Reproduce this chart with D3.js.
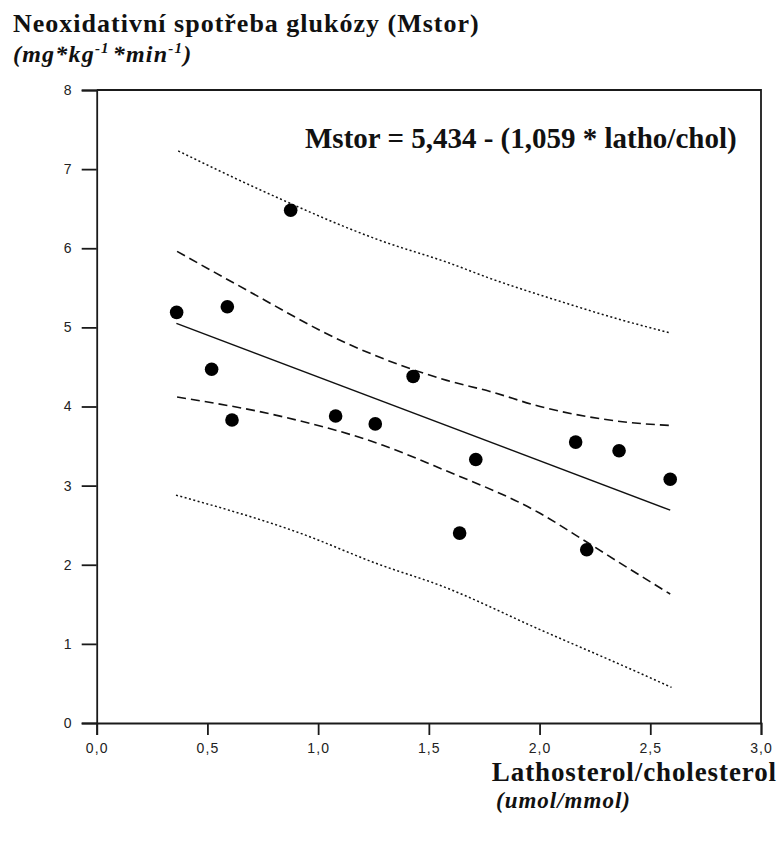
<!DOCTYPE html>
<html>
<head>
<meta charset="utf-8">
<script src="https://cdn.jsdelivr.net/npm/d3@7"></script>
<style>
  body { margin: 0; background: #fff; }
  .serif { font-family: "Liberation Serif", "Times New Roman", serif; font-weight: bold; fill: #111; }
  .tick text { font-family: "Liberation Sans", Arial, sans-serif; font-size: 14px; fill: #222; letter-spacing: 1.1px; }
</style>
</head>
<body>
<svg id="chart" width="780" height="850"></svg>
<script>
// measured points (latho/chol ratio vs. Mstor)
var latho = [0.361, 0.519, 0.590, 0.611, 0.876, 1.079, 1.258, 1.429, 1.639, 1.712, 2.163, 2.213, 2.359, 2.590];
var mstor = [5.19, 4.47, 5.26, 3.83, 6.48, 3.88, 3.78, 4.38, 2.40, 3.33, 3.55, 2.19, 3.44, 3.08];

// regression line, ends
var fitX = [0.36, 2.59];
var fitY = [5.05, 2.69];

// confidence band (dashed)
var ciUpX = [0.363, 0.633, 1.144, 1.581, 1.776, 2.002, 2.399, 2.59];
var ciUpY = [5.96, 5.54, 4.78, 4.33, 4.19, 4.00, 3.80, 3.76];
var ciLoX = [0.363, 0.841, 1.293, 1.550, 2.002, 2.200, 2.393, 2.59];
var ciLoY = [4.12, 3.87, 3.51, 3.22, 2.65, 2.31, 1.97, 1.63];

// prediction band (dotted)
var piUpX = [0.368, 0.737, 1.279, 1.595, 1.776, 2.092, 2.362, 2.59];
var piUpY = [7.23, 6.74, 6.10, 5.81, 5.62, 5.33, 5.10, 4.93];
var piLoX = [0.358, 0.918, 1.279, 1.550, 2.002, 2.453, 2.596];
var piLoY = [2.88, 2.40, 2.00, 1.74, 1.18, 0.63, 0.45];

var xTicks = [0, 0.5, 1, 1.5, 2, 2.5, 3];
var yTicks = [0, 1, 2, 3, 4, 5, 6, 7, 8];

var svg = d3.select("#chart");

var x = d3.scaleLinear().domain([0, 3]).range([96.7, 761]);
var y = d3.scaleLinear().domain([0, 8]).range([723, 90]);

var comma = function (d) { return d3.format(".1f")(d).replace(".", ","); };

//Axes
svg.append("g")
    .attr("transform", "translate(0," + y(0) + ")")
    .call(d3.axisBottom(x).tickValues(xTicks).tickSize(12).tickPadding(8).tickFormat(comma));
svg.append("g")
    .attr("transform", "translate(" + x(0) + ",0)")
    .call(d3.axisLeft(y).tickValues(yTicks).tickSize(15).tickPadding(9).tickFormat(d3.format("d")));

svg.selectAll(".domain, .tick line")
    .attr("stroke", "#1a1a1a")
    .attr("stroke-width", 1.8);

//Frame (top and right)
svg.append("path")
    .attr("d", "M" + x(0) + "," + y(8) + "H" + x(3) + "V" + y(0))
    .attr("fill", "none")
    .attr("stroke", "#1a1a1a")
    .attr("stroke-width", 1.8);

//Lines
function band(xs, ys) {
    return d3.line()
        .x(function (d) { return x(d[0]); })
        .y(function (d) { return y(d[1]); })
        .curve(d3.curveMonotoneX)(d3.zip(xs, ys));
}

var lines = [
    {xs: piUpX, ys: piUpY, dash: "2,2.5", w: 1.5},
    {xs: piLoX, ys: piLoY, dash: "2,2.5", w: 1.5},
    {xs: ciUpX, ys: ciUpY, dash: "9,5", w: 1.6},
    {xs: ciLoX, ys: ciLoY, dash: "9,5", w: 1.6},
    {xs: fitX, ys: fitY, dash: null, w: 1.5}
];

svg.selectAll(".band")
    .data(lines)
    .enter()
    .append("path")
    .attr("class", "band")
    .attr("d", function (d) { return band(d.xs, d.ys); })
    .attr("fill", "none")
    .attr("stroke", "#111")
    .attr("stroke-width", function (d) { return d.w; })
    .attr("stroke-dasharray", function (d) { return d.dash; });

//Points
svg.selectAll(".dot")
    .data(d3.zip(latho, mstor))
    .enter()
    .append("circle")
    .attr("class", "dot")
    .attr("cx", function (d) { return x(d[0]); })
    .attr("cy", function (d) { return y(d[1]); })
    .attr("r", 6.8)
    .style("fill", "#000");

//Texts
svg.append("text").attr("class", "serif")
    .attr("x", 13).attr("y", 32)
    .attr("font-size", "26px")
    .attr("letter-spacing", "1px")
    .text("Neoxidativní spotřeba glukózy (Mstor)");

var unit = svg.append("text").attr("class", "serif")
    .attr("x", 13).attr("y", 62)
    .attr("font-size", "24px")
    .attr("letter-spacing", "1.2px")
    .attr("font-style", "italic");
unit.append("tspan").text("(mg*kg");
unit.append("tspan").attr("dy", -9).attr("font-size", "15px").text("-1");
unit.append("tspan").attr("dy", 9).attr("dx", 3).text("*min");
unit.append("tspan").attr("dy", -9).attr("font-size", "15px").text("-1");
unit.append("tspan").attr("dy", 9).text(")");

svg.append("text").attr("class", "serif")
    .attr("x", 305).attr("y", 148)
    .attr("font-size", "29px")
    .text("Mstor = 5,434 - (1,059 * latho/chol)");

svg.append("text").attr("class", "serif")
    .attr("x", 777).attr("y", 781)
    .attr("text-anchor", "end")
    .attr("font-size", "27px")
    .attr("letter-spacing", "0.9px")
    .text("Lathosterol/cholesterol");

svg.append("text").attr("class", "serif")
    .attr("x", 496).attr("y", 808)
    .attr("font-size", "23px")
    .attr("letter-spacing", "1px")
    .attr("font-style", "italic")
    .text("(umol/mmol)");
</script>
</body>
</html>
